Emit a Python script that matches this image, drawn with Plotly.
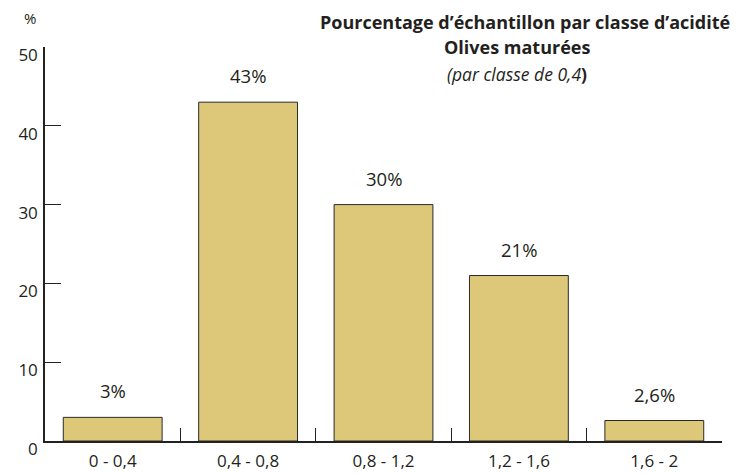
import plotly.graph_objects as go

categories = ["0 - 0,4", "0,4 - 0,8", "0,8 - 1,2", "1,2 - 1,6", "1,6 - 2"]
values = [3, 43, 30, 21, 2.6]
value_labels = ["3%", "43%", "30%", "21%", "2,6%"]
y_ticks = [0, 10, 20, 30, 40, 50]

FONT = "Open Sans"
TXT = "#231f20"

fig = go.Figure()
fig.add_trace(go.Bar(
    x=categories, y=values,
    marker=dict(color="#dcc878", line=dict(color="#2a2a2a", width=1)),
    hoverinfo="skip",
))

for c, v, t in zip(categories, values, value_labels):
    fig.add_annotation(x=c, y=v, text=t, showarrow=False, yanchor="bottom",
                       yshift=12, font=dict(family=FONT, size=18.5, color=TXT))

fig.add_annotation(xref="paper", yref="paper", x=0.709, y=1.0635,
                   text="<b>Pourcentage d’échantillon par classe d’acidité</b>",
                   showarrow=False, xanchor="center", yanchor="middle",
                   font=dict(family=FONT, size=18, color=TXT))
fig.add_annotation(xref="paper", yref="paper", x=0.697, y=1.0,
                   text="<b>Olives maturées</b>",
                   showarrow=False, xanchor="center", yanchor="middle",
                   font=dict(family=FONT, size=18, color=TXT))
fig.add_annotation(xref="paper", yref="paper", x=0.697, y=0.9315,
                   text="<i>(par classe de 0,4</i><b>)</b>",
                   showarrow=False, xanchor="center", yanchor="middle",
                   font=dict(family=FONT, size=17.5, color=TXT))
fig.add_annotation(xref="paper", yref="paper", x=-0.022, y=1.0736,
                   text="%", showarrow=False, xanchor="center", yanchor="middle",
                   font=dict(family=FONT, size=15, color=TXT))

fig.update_layout(
    width=739, height=475,
    margin=dict(l=45, r=17, t=47, b=34, autoexpand=False),
    plot_bgcolor="white", paper_bgcolor="white",
    showlegend=False, bargap=0.27,
    font=dict(family=FONT, color=TXT),
)
fig.update_xaxes(
    type="category", showline=True, linecolor="#222", linewidth=1.5,
    ticks="inside", tickson="boundaries", ticklen=13, tickwidth=1.3, tickcolor="#222",
    showgrid=False, zeroline=False, tickfont=dict(family=FONT, size=17, color=TXT),
    ticklabelstandoff=4, automargin=False,
)
fig.update_yaxes(
    range=[0, 50], tickvals=y_ticks, showline=True, linecolor="#222", linewidth=1.5,
    ticks="inside", ticklen=16, tickwidth=1.3, tickcolor="#222",
    showgrid=False, zeroline=False, tickfont=dict(family=FONT, size=17, color=TXT),
    ticklabelshift=8, ticklabelstandoff=2, automargin=False,
)

fig.write_html("out.html", config={"displayModeBar": False},
               post_script="document.body.style.margin='0';document.body.style.overflow='hidden';")
